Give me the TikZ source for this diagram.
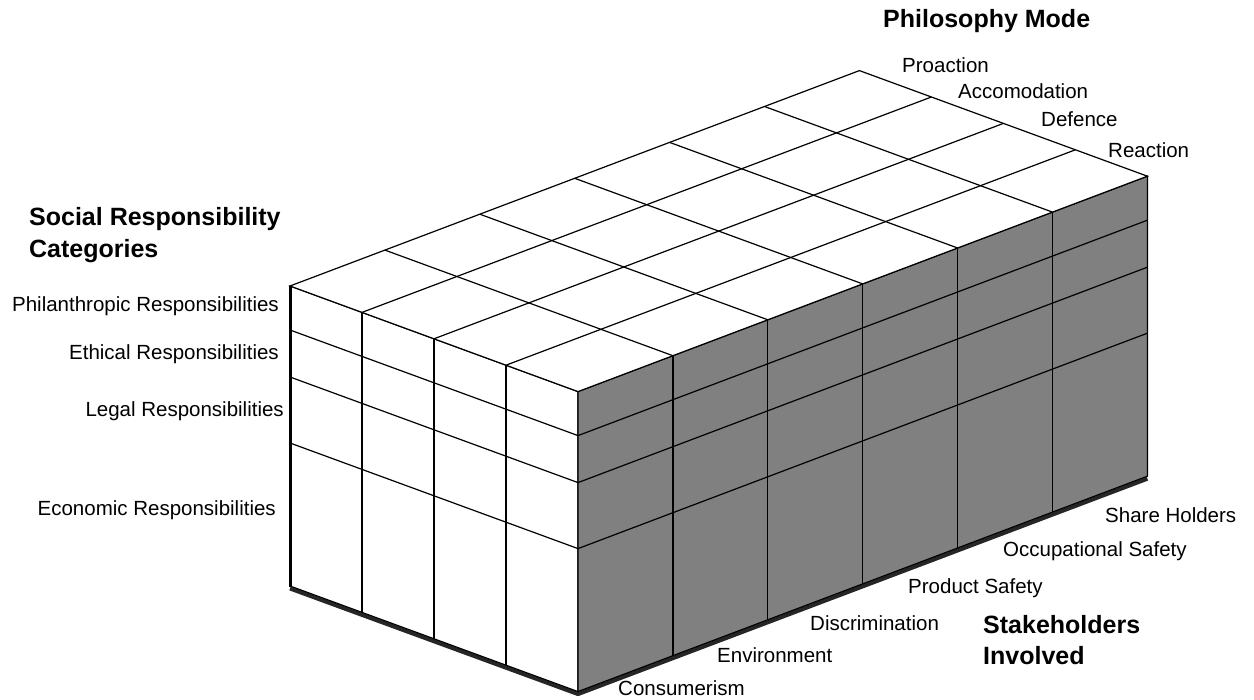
\documentclass[tikz,border=0pt]{standalone}
\usepackage{fontspec}
\setmainfont{Liberation Sans}
\usetikzlibrary{positioning}
\tikzset {
    style Label/.style={
        font=\fontsize{20.5}{24}\selectfont,
        inner sep=0pt,
        text=black,
    },
    style Title/.style={
        font=\fontsize{25}{30}\selectfont\bfseries,
        inner sep=0pt,
        text=black,
    },
    style Grid/.style={
        draw=black,
        line width=1.2pt,
    },
    style Side/.style={
        fill=black!50, % Set the right face grey
        draw=black,
        line width=1.2pt,
    },
    style Shadow/.style={
        draw=black!85,
        line width=4pt,
        line join=round,
    },
}
\begin{document}
\begin{tikzpicture}[x=1pt, y=-1pt]
\useasboundingbox[fill=white] (0,0) rectangle (1254,700);

\begin{scope}[shift={(290,586)}, x={(72pt,-26.4pt)}, y={(94.9pt,35.9pt)}, z={(0pt,1pt)}]
% shadow under the box
\draw[style Shadow, yshift=-2.5pt] (0,0,0) -- (4,0,0) -- (4,6,0);
% front face
\filldraw[style Grid, fill=white] (0,0,0) -- (4,0,0) -- (4,0,300) -- (0,0,300) -- cycle;
\foreach \i in {1,2,3} \draw[style Grid] (\i,0,0) -- (\i,0,300);
\foreach \h in {143,209,256} \draw[style Grid] (0,0,\h) -- (4,0,\h);
% right face
\filldraw[style Side] (4,0,0) -- (4,6,0) -- (4,6,300) -- (4,0,300) -- cycle;
\foreach \j in {1,...,5} \draw[style Grid] (4,\j,0) -- (4,\j,300);
\foreach \h in {143,209,256} \draw[style Grid] (4,0,\h) -- (4,6,\h);
% top face
\filldraw[style Grid, fill=white] (0,0,300) -- (4,0,300) -- (4,6,300) -- (0,6,300) -- cycle;
\foreach \i in {1,2,3} \draw[style Grid] (\i,0,300) -- (\i,6,300);
\foreach \j in {1,...,5} \draw[style Grid] (0,\j,300) -- (4,\j,300);
\draw[line width=3pt] (0,0,-1) -- (0,0,300);
\end{scope}

\node[style Title, anchor=base west] at (883, 28) (philmode) {Philosophy Mode};
\node[style Label, anchor=base west] at (902, 73) (proaction) {Proaction};
\node[style Label, anchor=base west] at (958, 99) (accomodation) {Accomodation};
\node[style Label, anchor=base west] at (1041, 127) (defence) {Defence};
\node[style Label, anchor=base west] at (1108, 158) (reaction) {Reaction};

\node[style Title, anchor=base west] at (29, 226) (srcat1) {Social Responsibility};
\node[style Title, anchor=base west] at (29, 258) (srcat2) {Categories};
\node[style Label, anchor=base east] at (279, 312) (philanthropic) {Philanthropic Responsibilities};
\node[style Label, anchor=base east] at (279, 360) (ethical) {Ethical Responsibilities};
\node[style Label, anchor=base east] at (284, 417) (legal) {Legal Responsibilities};
\node[style Label, anchor=base east] at (276, 515) (economic) {Economic Responsibilities};

\node[style Label, anchor=base west] at (1105, 523) (shareholders) {Share Holders};
\node[style Label, anchor=base west] at (1003, 557) (occupational) {Occupational Safety};
\node[style Label, anchor=base west] at (908, 593) (product) {Product Safety};
\node[style Label, anchor=base west] at (810, 630) (discrimination) {Discrimination};
\node[style Label, anchor=base west] at (717, 662) (environment) {Environment};
\node[style Label, anchor=base west] at (618, 695) (consumerism) {Consumerism};
\node[style Title, anchor=base west] at (983, 633) (stake1) {Stakeholders};
\node[style Title, anchor=base west] at (983, 664) (stake2) {Involved};
\end{tikzpicture}
\end{document}
